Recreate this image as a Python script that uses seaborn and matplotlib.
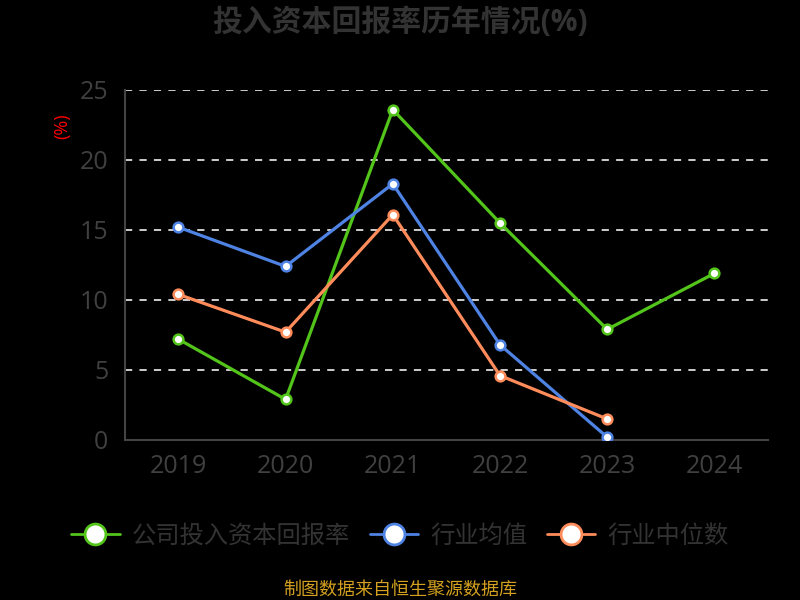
import numpy as np
import pandas as pd
import matplotlib
matplotlib.use("Agg")
import matplotlib.pyplot as plt
import seaborn as sns
from matplotlib.lines import Line2D

# data
years = ["2019", "2020", "2021", "2022", "2023", "2024"]
company = [7.2, 2.9, 23.6, 15.5, 7.9, 11.9]
industry_mean = [15.2, 12.4, 18.3, 6.8, 0.2, np.nan]
industry_median = [10.4, 7.7, 16.1, 4.6, 1.5, np.nan]
series_names = ["公司投入资本回报率", "行业均值", "行业中位数"]
colors = ["#52c41a", "#4f83e3", "#ff8c5a"]

sns.set_style("dark")
plt.rcParams["font.family"] = ["Open Sans", "Noto Sans CJK SC", "DejaVu Sans"]
plt.rcParams["axes.unicode_minus"] = False

fig = plt.figure(figsize=(8, 6), dpi=100, facecolor="black")
ax = fig.add_axes([0.156, 0.2667, 0.804, 0.5833])
ax.set_facecolor("black")

pos = np.arange(len(years))
for name, vals, c in zip(series_names, [company, industry_mean, industry_median], colors):
    df = pd.DataFrame({"x": pos, "y": vals}).dropna()
    sns.lineplot(data=df, x="x", y="y", ax=ax, color=c, linewidth=2.3,
                 marker="o", markersize=7, markerfacecolor="white",
                 markeredgecolor=c, markeredgewidth=1.8, zorder=3)

ax.set_xlim(-0.5, len(years) - 0.5)
ax.set_ylim(0, 25)
ax.set_yticks([0, 5, 10, 15, 20, 25])
ax.set_xticks(pos)
ax.set_xticklabels(years)
ax.set_xticks(np.arange(-0.5, len(years), 1.0), minor=True)
ax.tick_params(axis="x", which="major", length=0, pad=10, labelsize=18, labelcolor="#404040")
ax.tick_params(axis="x", which="minor", length=8, width=1.5, color="#444444")
ax.tick_params(axis="y", length=9, width=1.5, color="#444444", pad=3, labelsize=18, labelcolor="#404040")
ax.yaxis.grid(True, color="#dddddd", linestyle=(0, (4, 4)), linewidth=1.3)
ax.xaxis.grid(False)
ax.set_xlabel("")
ax.set_ylabel("")
for side in ["top", "right"]:
    ax.spines[side].set_visible(False)
for side in ["left", "bottom"]:
    ax.spines[side].set_visible(True)
    ax.spines[side].set_color("#444444")
    ax.spines[side].set_linewidth(1.5)

fig.text(0.5, 0.962, "投入资本回报率历年情况(%)", ha="center", va="center",
         fontsize=21.5, fontweight="bold", color="#333333")
fig.text(0.078, 0.79, "(%)", ha="center", va="center", rotation=90,
         fontsize=13, color="#ff0000")

handles = [Line2D([0], [0], color=c, linewidth=2, marker="o", markersize=15,
                  markerfacecolor="white", markeredgecolor=c, markeredgewidth=2)
           for c in colors]
fig.legend(handles, series_names, loc="center", bbox_to_anchor=(0.5, 0.105),
           ncol=3, frameon=False, fontsize=17.5, labelcolor="#333333",
           handlelength=2.0, handletextpad=0.5, columnspacing=0.8)

fig.text(0.5, 0.017, "制图数据来自恒生聚源数据库", ha="center", va="center",
         fontsize=13, color="#d4a020")

fig.savefig("out.png", dpi=100, facecolor="black")
